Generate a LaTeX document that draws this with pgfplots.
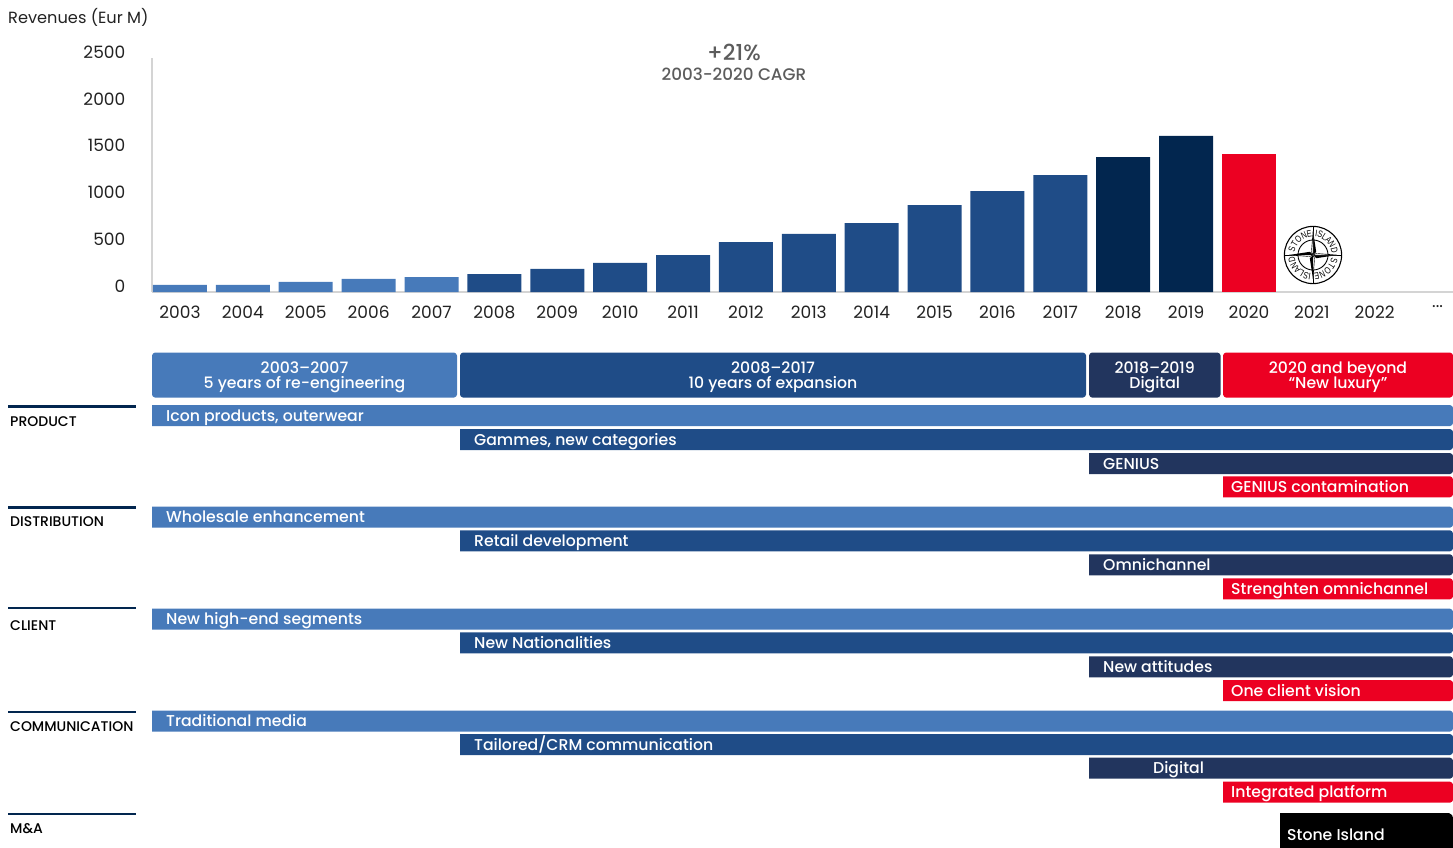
\documentclass[border=0pt]{standalone}
\usepackage{fontspec}
\usepackage{pgfplots}
\usepackage{pgfplotstable}
\pgfplotsset{compat=1.18}
\setmainfont{Poppins}
\newfontfamily\medfont{Poppins Medium}
\newfontfamily\logofont[FakeStretch=0.78]{Liberation Sans}

\definecolor{lightblue}{HTML}{477ABA}
\definecolor{midblue}{HTML}{1F4C87}
\definecolor{slateblue}{HTML}{22355E}
\definecolor{deepnavy}{HTML}{02264F}
\definecolor{brandred}{HTML}{EC0022}
\definecolor{axisgray}{HTML}{D4D4D4}
\definecolor{inktext}{HTML}{222222}
\definecolor{notegray}{HTML}{5C5C5C}

\tikzset{
  rowlabel/.style={anchor=base west,inner sep=0pt,text=white,font=\medfont\fontsize{15.7}{16}\selectfont},
  headlabel/.style={anchor=base,inner sep=0pt,text=white,font=\medfont\fontsize{15.7}{16}\selectfont},
  seclabel/.style={anchor=base west,inner sep=0pt,text=black,font=\medfont\fontsize{14}{15}\selectfont},
}

% Revenues by phase (Eur M)
\pgfplotstableread{
year rev
2003 75
2004 75
2005 107
2006 139
2007 160
}\phaseone
\pgfplotstableread{
year rev
2008 192
2009 246
2010 310
2011 395
2012 534
2013 620
2014 737
2015 929
2016 1079
2017 1250
}\phasetwo
\pgfplotstableread{
year rev
2018 1442
2019 1667
}\phasethree
\pgfplotstableread{
year rev
2020 1474
}\phasefour

% Timeline row ending at the right edge: start x, top y, colour, label x, label
\newcommand{\tlrow}[5]{%
  \pgfmathsetmacro{\yb}{#2+1}%
  \pgfmathsetmacro{\yc}{#2+3}%
  \pgfmathsetmacro{\yd}{#2+18}%
  \pgfmathsetmacro{\ye}{#2+20}%
  \pgfmathsetmacro{\yf}{#2+21}%
  \pgfmathsetmacro{\yt}{#2+16}%
  \addplot[fill=#3,draw=none,forget plot] coordinates
    {(#1,#2) (1450,#2) (1452,\yb) (1453,\yc) (1453,\yd) (1452,\ye) (1450,\yf) (#1,\yf)} -- cycle;
  \edef\tmp{\noexpand\node[rowlabel] at (axis cs:#4,\yt)}\tmp{#5};
}
% Phase header box: left, right, colour, first line, second line
\newcommand{\phasebox}[5]{%
  \pgfmathsetmacro{\xa}{#1+1}%
  \pgfmathsetmacro{\xb}{#1+3}%
  \pgfmathsetmacro{\xc}{#2-3}%
  \pgfmathsetmacro{\xd}{#2-1}%
  \addplot[fill=#3,draw=none,forget plot] coordinates
    {(\xb,352.5) (\xc,352.5) (\xd,353.5) (#2,355.5) (#2,394.5) (\xd,396.5) (\xc,397.5)
     (\xb,397.5) (\xa,396.5) (#1,394.5) (#1,355.5) (\xa,353.5)} -- cycle;
  \pgfmathsetmacro{\mx}{(#1+#2)/2}%
  \edef\tmp{\noexpand\node[headlabel] at (axis cs:\mx,373)}\tmp{#4};
  \edef\tmp{\noexpand\node[headlabel] at (axis cs:\mx,388)}\tmp{#5};
}
% Section rule with its caption
\newcommand{\secrule}[3]{%
  \addplot[deepnavy,line width=2.8pt,forget plot] coordinates {(8,#1) (136,#1)};
  \node[seclabel] at (axis cs:10,#2) {#3};
}

\begin{document}
\begin{tikzpicture}[x=1pt,y=1pt]
\path[use as bounding box] (0,-848) rectangle (1453,0);

% Revenue bars, one plot per phase colour
\begin{axis}[
  at={(152pt,-292pt)}, anchor=south west,
  scale only axis, width=1301pt, height=234pt,
  xmin=2002.555, xmax=2023.245, ymin=0, ymax=2500,
  axis x line=bottom, axis y line=left,
  axis line style={axisgray,line width=2pt,-},
  tick style={draw=none},
  major tick length=0pt,
  ybar, bar width=54pt, bar shift=0pt,
  ytick={0,500,1000,1500,2000,2500},
  xtick={2003,2004,2005,2006,2007,2008,2009,2010,2011,2012,2013,2014,2015,2016,2017,2018,2019,2020,2021,2022,2023},
  xticklabels={2003,2004,2005,2006,2007,2008,2009,2010,2011,2012,2013,2014,2015,2016,2017,2018,2019,2020,2021,2022,.{}.{}.},
  /pgf/number format/1000 sep={},
  /pgf/number format/assume math mode=true,
  yticklabel style={font=\fontsize{17}{17}\selectfont,text=inktext,anchor=east,inner sep=0pt,xshift=-26.5pt,yshift=6pt},
  xticklabel style={font=\fontsize{17}{17}\selectfont,text=inktext,anchor=north,inner sep=0pt,yshift=-13.5pt},
  clip=false,
]
\addplot[fill=lightblue,draw=none] table[x=year,y=rev] {\phaseone};
\addplot[fill=midblue,draw=none] table[x=year,y=rev] {\phasetwo};
\addplot[fill=deepnavy,draw=none] table[x=year,y=rev] {\phasethree};
\addplot[fill=brandred,draw=none] table[x=year,y=rev] {\phasefour};
\end{axis}

% Strategy timeline below the revenue bars, in drawing units
\begin{axis}[
  at={(0pt,-848pt)}, anchor=south west,
  scale only axis, width=1453pt, height=848pt,
  xmin=0, xmax=1453, ymin=0, ymax=848, y dir=reverse,
  hide axis, clip=false,
]
\node[anchor=base west,inner sep=0pt,text=inktext,font=\fontsize{16.2}{16}\selectfont] at (axis cs:8,23) {Revenues (Eur M)};
\node[anchor=base,inner sep=0pt,text=notegray,font=\medfont\fontsize{22}{22}\selectfont] at (axis cs:734,60) {+21\%};
\node[anchor=base,inner sep=0pt,text=notegray,font=\medfont\fontsize{16.8}{17}\selectfont] at (axis cs:734,80) {2003-2020 CAGR};

\phasebox{152}{457}{lightblue}{2003–2007}{5 years of re-engineering}
\phasebox{460}{1086}{midblue}{2008–2017}{10 years of expansion}
\phasebox{1089}{1220.5}{slateblue}{2018–2019}{Digital}
\phasebox{1223}{1453}{brandred}{2020 and beyond}{“New luxury”}

\secrule{406.8}{426}{PRODUCT}
\tlrow{152}{405}{lightblue}{166}{Icon products, outerwear}
\tlrow{460}{429}{midblue}{474}{Gammes, new categories}
\tlrow{1089}{453}{slateblue}{1103}{GENIUS}
\tlrow{1223}{476.3}{brandred}{1231}{GENIUS contamination}

\secrule{507.5}{526}{DISTRIBUTION}
\tlrow{152}{506.7}{lightblue}{166}{Wholesale enhancement}
\tlrow{460}{530.3}{midblue}{474}{Retail development}
\tlrow{1089}{554.3}{slateblue}{1103}{Omnichannel}
\tlrow{1223}{578.3}{brandred}{1231}{Strenghten omnichannel}

\secrule{608}{630}{CLIENT}
\tlrow{152}{608.7}{lightblue}{166}{New high-end segments}
\tlrow{460}{632.3}{midblue}{474}{New Nationalities}
\tlrow{1089}{656.3}{slateblue}{1103}{New attitudes}
\tlrow{1223}{680}{brandred}{1231}{One client vision}

\secrule{712}{731}{COMMUNICATION}
\tlrow{152}{710.5}{lightblue}{166}{Traditional media}
\tlrow{460}{734}{midblue}{474}{Tailored/CRM communication}
\tlrow{1089}{757.7}{slateblue}{1153}{Digital}
\tlrow{1223}{781.7}{brandred}{1231}{Integrated platform}

\secrule{814}{833}{M\&A}
\addplot[fill=black,draw=none,forget plot] coordinates
  {(1280,813) (1449,813) (1452,815) (1453,818) (1453,848) (1280,848)} -- cycle;
\node[rowlabel] at (axis cs:1287,840) {Stone Island};
\end{axis}

% Compass-rose emblem
\begin{scope}[shift={(1313,-255)}]
  \fill[white] (0,0) circle (29);
  \draw[black,line width=1.1pt] (0,0) circle (28.6);
  \draw[black,line width=0.9pt] (0,0) circle (15);
  \draw[black,line width=0.8pt] (0,28.6) -- (0,15) (0,-28.6) -- (0,-15) (28.6,0) -- (15,0) (-28.6,0) -- (-15,0);
  \foreach \a in {0,90,180,270}{
    \begin{scope}[rotate=\a]
      \fill[black] (0,0) -- (3.2,3.2) -- (0,24) -- cycle;
      \fill[white,draw=black,line width=0.4pt] (0,0) -- (-1.6,3.2) -- (0,24) -- cycle;
    \end{scope}
  }
  \foreach \r in {0,180}{
    \foreach \ch/\ang in {S/164,T/148,O/132,N/115,E/100,I/81,S/71,L/58,A/44,N/29,D/13}{
      \node[rotate={\ang+\r-90},inner sep=0pt,font=\logofont\fontsize{9.4}{9.4}\selectfont] at ({\ang+\r}:21.8) {\ch};
    }
  }
\end{scope}
\end{tikzpicture}
\end{document}
